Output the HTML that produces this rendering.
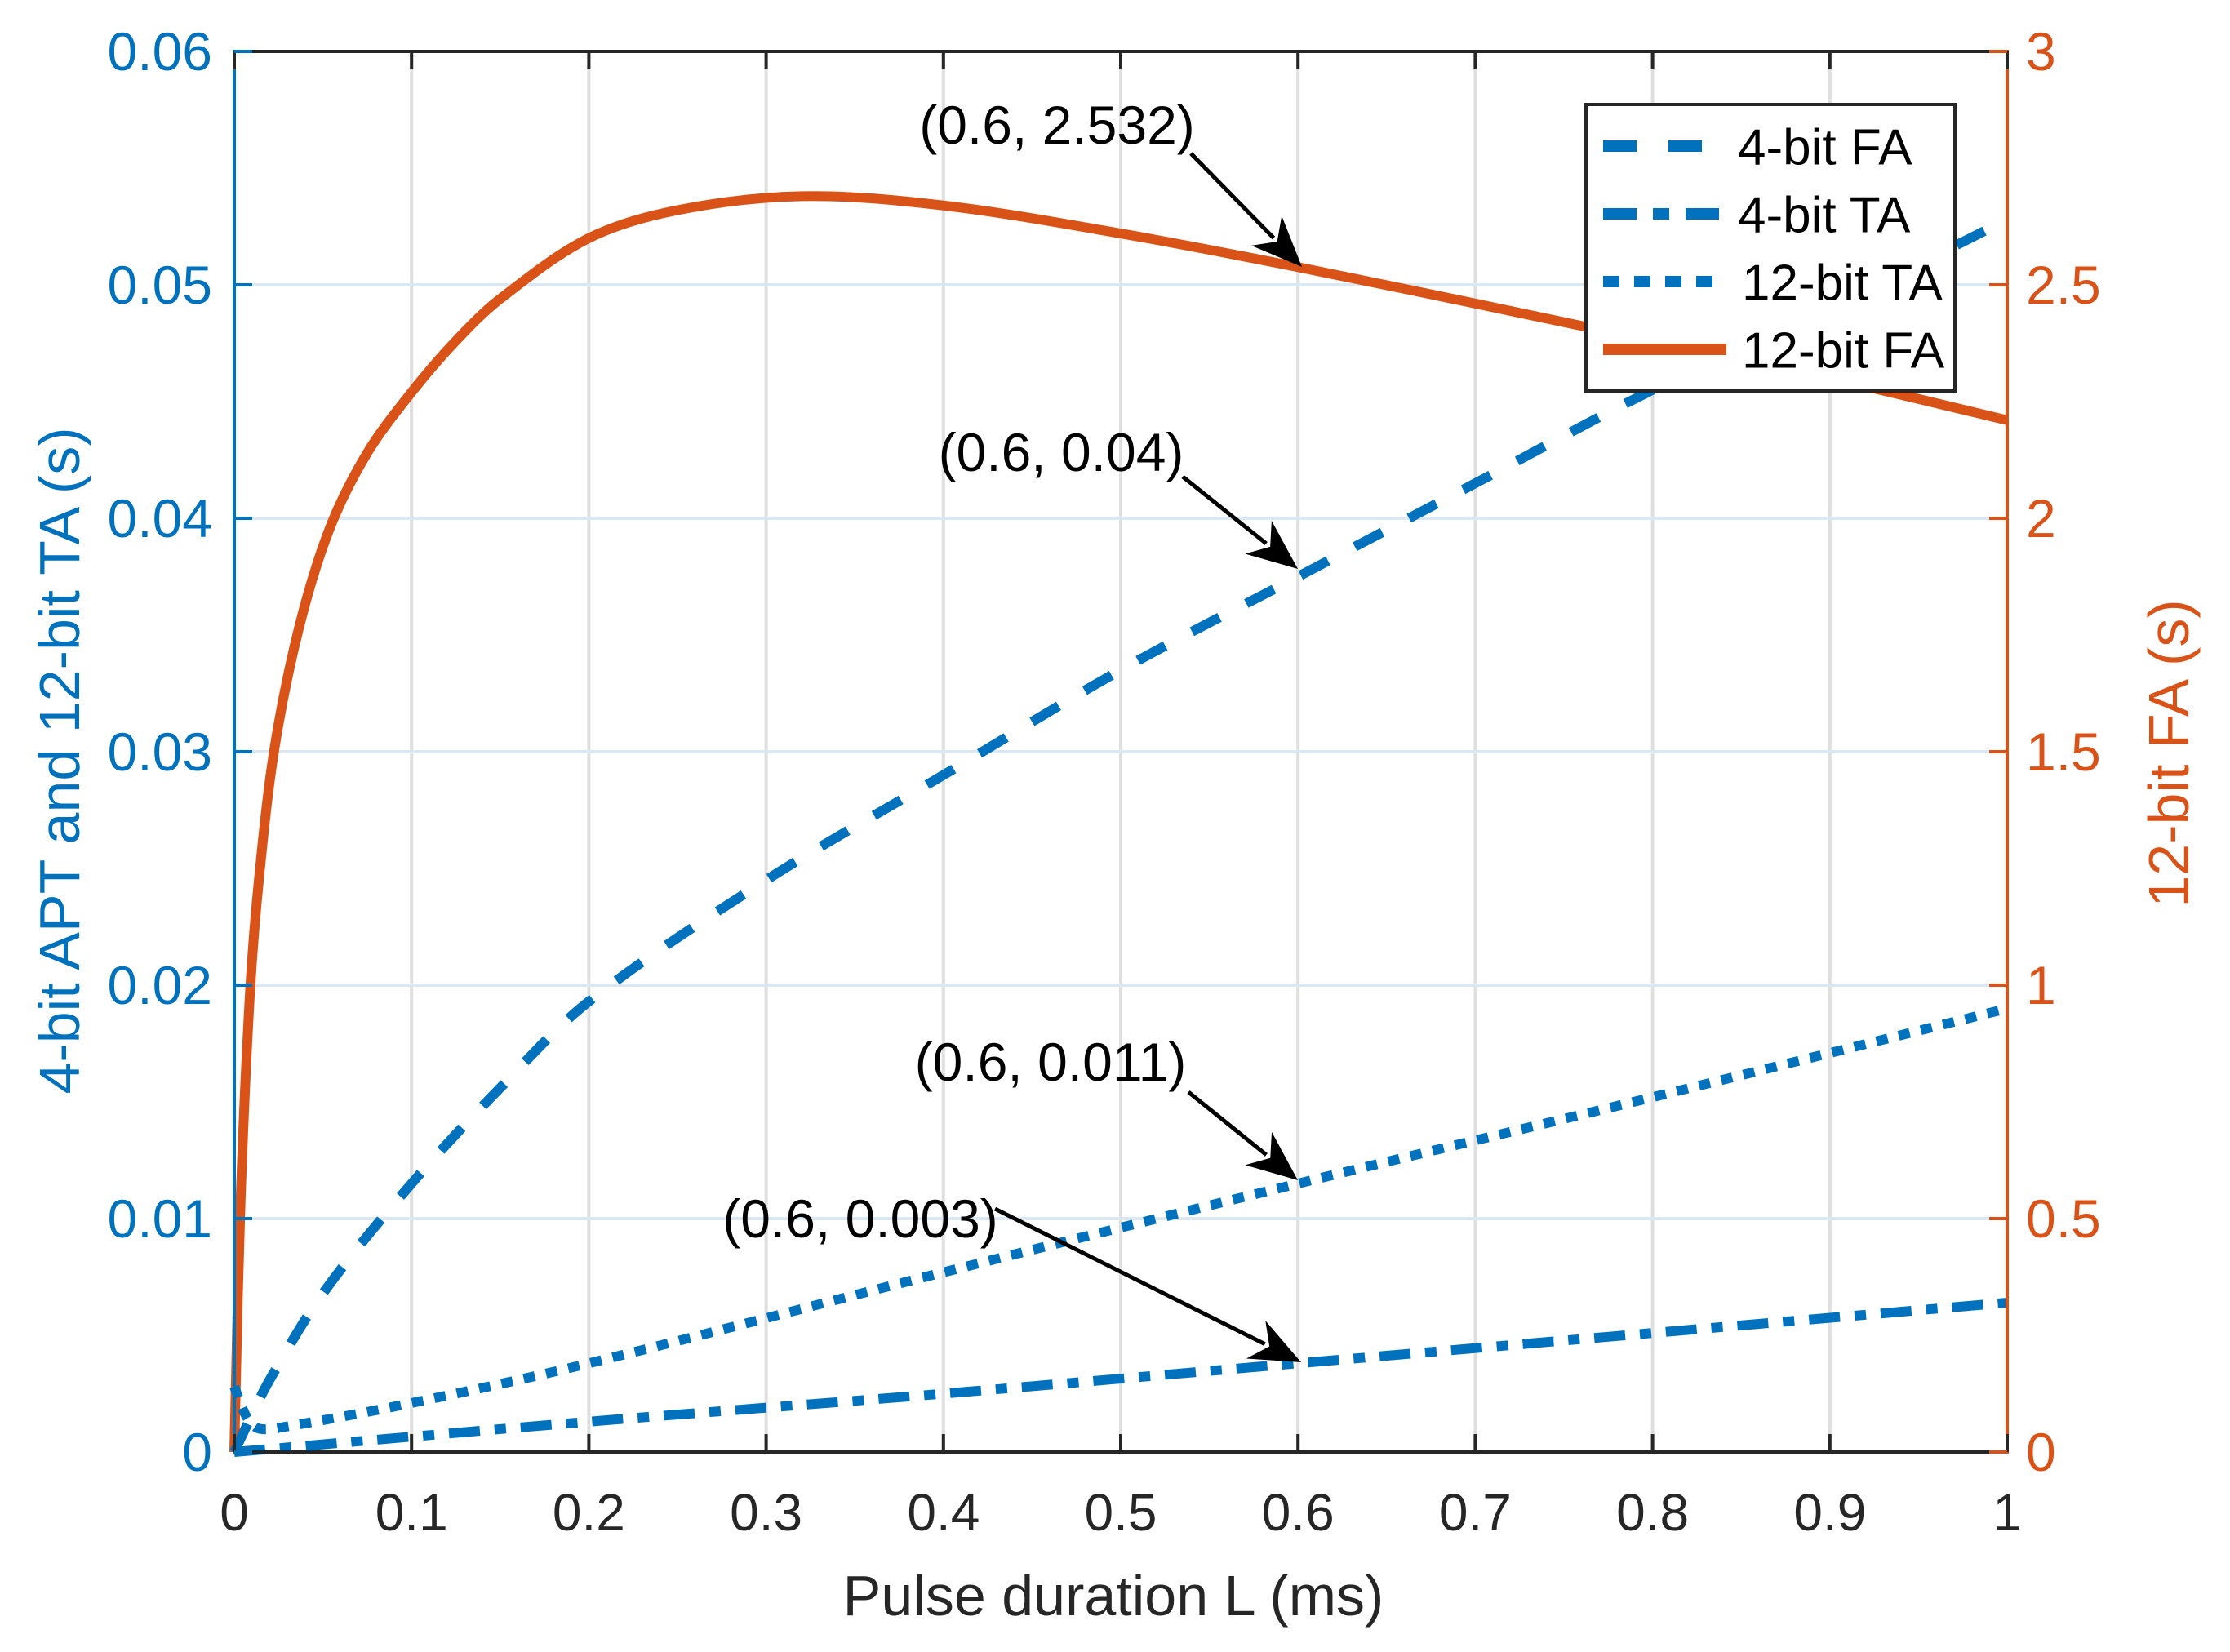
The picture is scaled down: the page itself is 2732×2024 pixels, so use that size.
<!DOCTYPE html>
<html><head><meta charset="utf-8"><style>
html,body{margin:0;padding:0;background:#fff;}
svg{display:block;font-family:"Liberation Sans",Arial,sans-serif;}
</style></head><body>
<svg id="chart" width="2732" height="2024" viewBox="0 0 2732 2024" xmlns="http://www.w3.org/2000/svg">
<g id="grid"></g>
<g id="series"></g>
<g id="axes"></g>
<g id="annots"></g>
<g id="legend"></g>
</svg>
<script>
const xTicks = [0,0.1,0.2,0.3,0.4,0.5,0.6,0.7,0.8,0.9,1];
const xTickLabels = ["0","0.1","0.2","0.3","0.4","0.5","0.6","0.7","0.8","0.9","1"];
const yLeftTicks = [0,0.01,0.02,0.03,0.04,0.05,0.06];
const yLeftLabels = ["0","0.01","0.02","0.03","0.04","0.05","0.06"];
const yRightTicks = [0,0.5,1,1.5,2,2.5,3];
const yRightLabels = ["0","0.5","1","1.5","2","2.5","3"];

const fa4X = [0,0.01,0.02,0.05,0.1,0.15,0.2,0.3,0.4,0.5,0.6,0.7,0.8,0.9,1];
const fa4Y = [0,0.0016,0.0031,0.0068,0.0115,0.0156,0.0193,0.0245,0.029,0.0335,0.0375,0.0415,0.0455,0.049,0.0528];
const ta4X = [0,0.2,0.4,0.6,0.8,1];
const ta4Y = [0,0.0013,0.0025,0.0038,0.0051,0.0064];
const ta12X = [0,0.007,0.014,0.03,0.1,0.2,0.4,0.6,0.8,1];
const ta12Y = [0.0028,0.0015,0.001,0.0011,0.0021,0.0038,0.0077,0.0115,0.0152,0.019];
const fa12X = [0,0.0035,0.0088,0.014,0.0228,0.0368,0.054,0.075,0.1,0.125,0.15,0.2,0.25,0.32,0.4,0.5,0.6,0.7,0.8,0.9,1];
const fa12Y = [0,0.53,0.98,1.23,1.51,1.77,1.98,2.14,2.27,2.38,2.47,2.6,2.66,2.69,2.67,2.61,2.538,2.46,2.38,2.3,2.21];

const annText = ["(0.6, 2.532)","(0.6, 0.04)","(0.6, 0.011)","(0.6, 0.003)"];

const X0=287,X1=2459,Y0=63,Y1=1779;
const sx=v=>X0+(X1-X0)*v;
const syL=v=>Y1-(Y1-Y0)*v/0.06;
const syR=v=>Y1-(Y1-Y0)*v/3;
const NS="http://www.w3.org/2000/svg";
function mk(tag,attrs,parent){const e=document.createElementNS(NS,tag);for(const k in attrs)e.setAttribute(k,attrs[k]);parent.appendChild(e);return e;}
const grid=document.getElementById('grid'),ser=document.getElementById('series'),axes=document.getElementById('axes'),ann=document.getElementById('annots'),leg=document.getElementById('legend');
const BLUE="#0072BD",ORG="#D95319",DK="#262626";

xTicks.forEach((t,i)=>{
  if(i>0&&i<xTicks.length-1){const g=mk('line',{x1:sx(t),x2:sx(t),y1:Y0,y2:Y1,stroke:"#dfdfdf","stroke-width":4},grid);
  
  }
});
yLeftTicks.forEach((t,i)=>{
  if(i>0&&i<yLeftTicks.length-1){const g=mk('line',{x1:X0,x2:X1,y1:syL(t),y2:syL(t),stroke:"#dbe8f2","stroke-width":4},grid);
  
  }
});

// centripetal-ish Catmull-Rom on screen points
function smoothPath(px,py){
  const n=px.length;
  let p="M"+px[0]+","+py[0];
  for(let i=0;i<n-1;i++){
    const i0=Math.max(0,i-1),i3=Math.min(n-1,i+2);
    const d1=Math.hypot(px[i+1]-px[i],py[i+1]-py[i]);
    const d0=Math.hypot(px[i]-px[i0],py[i]-py[i0])||d1;
    const d2=Math.hypot(px[i3]-px[i+1],py[i3]-py[i+1])||d1;
    const t1x=(px[i+1]-px[i0])/(d0+d1)*d1/3, t1y=(py[i+1]-py[i0])/(d0+d1)*d1/3;
    const t2x=(px[i3]-px[i])/(d1+d2)*d1/3, t2y=(py[i3]-py[i])/(d1+d2)*d1/3;
    p+=` C${px[i]+t1x},${py[i]+t1y} ${px[i+1]-t2x},${py[i+1]-t2y} ${px[i+1]},${py[i+1]}`;
  }
  return p;
}
function series(xs,ys,sy,color,dash,name){
  const p=mk('path',{d:smoothPath(xs.map(sx),ys.map(sy)),fill:"none",stroke:color,"stroke-width":12,"stroke-dasharray":dash,"stroke-linejoin":"round"},ser);
  
  
}
series(fa12X,fa12Y,syR,ORG,"none","line-12bit-fa");
series(fa4X,fa4Y,syL,BLUE,"38 37","line-4bit-fa");
series(ta4X,ta4Y,syL,BLUE,"38 18 14 18","line-4bit-ta");
series(ta12X,ta12Y,syL,BLUE,"14 14","line-12bit-ta");

function ln(x1,y1,x2,y2,c,name){const l=mk('line',{x1,y1,x2,y2,stroke:c,"stroke-width":4},axes);}
ln(X0,Y0,X1,Y0,DK,'top-axis-line');
ln(X0,Y1,X1,Y1,DK,'x-axis-line');
ln(X0,Y0-2,X0,Y1+2,BLUE,'left-y-axis-line');
ln(X1,Y0-2,X1,Y1+2,ORG,'right-y-axis-line');
function txt(s,x,y,anchor,color,size,name,parent,rot){
  const t=mk('text',{x,y,"text-anchor":anchor,fill:color,"font-size":size,"dominant-baseline":"central"},parent||axes);
  if(rot)t.setAttribute('transform',`rotate(${rot} ${x} ${y})`);
  t.textContent=s;return t;
}
xTicks.forEach((t,i)=>{
  ln(sx(t),Y1,sx(t),Y1-22,DK,'x-tick');ln(sx(t),Y0,sx(t),Y0+22,DK,'x-tick-top');
  txt(xTickLabels[i],sx(t),1853,"middle",DK,64,'x-tick-label');
});
yLeftTicks.forEach((t,i)=>{
  ln(X0,syL(t),X0+22,syL(t),BLUE,'left-y-tick');
  txt(yLeftLabels[i],260,syL(t),"end",BLUE,66,'left-y-tick-label');
});
yRightTicks.forEach((t,i)=>{
  ln(X1,syR(t),X1-22,syR(t),ORG,'right-y-tick');
  txt(yRightLabels[i],2482,syR(t),"start",ORG,66,'right-y-tick-label');
});
txt("Pulse duration L (ms)",1364,1955,"middle",DK,70,'x-axis-title');
txt("4-bit APT and 12-bit TA (s)",73,932,"middle",BLUE,70,'left-y-axis-title',axes,-90);
txt("12-bit FA (s)",2657,923,"middle",ORG,70,'right-y-axis-title',axes,-90);

const annPos=[[1295,153,1459,188,1595,327],[1300,554,1449,584,1590,697],[1287,1301,1456,1338,1590,1446],[1054,1493,1219,1481,1594,1669]];
annPos.forEach((a,i)=>{
  txt(annText[i],a[0],a[1],"middle","#000",66,'annotation-label',ann);
  const [ax,ay,bx,by]=[a[2],a[3],a[4],a[5]];
  const dx=bx-ax,dy=by-ay,L=Math.hypot(dx,dy),ux=dx/L,uy=dy/L,hl=62,hw=26;
  const l=mk('line',{x1:ax,y1:ay,x2:bx-ux*hl*0.8,y2:by-uy*hl*0.8,stroke:"#000","stroke-width":5},ann);
  
  
  const bxh=bx-ux*hl,byh=by-uy*hl;
  const p=mk('polygon',{points:`${bx},${by} ${bxh-uy*hw},${byh+ux*hw} ${bx-ux*hl*0.7},${by-uy*hl*0.7} ${bxh+uy*hw},${byh-ux*hw}`,fill:"#000"},ann);
  
  
});

const lb=mk('rect',{x:1943,y:128,width:452,height:351,fill:"#fff",stroke:DK,"stroke-width":4},leg);


const legNames=["4-bit FA","4-bit TA","12-bit TA","12-bit FA"];
const legDash=["41 39","41 20 20 20","20 18","none"];
const legCol=[BLUE,BLUE,BLUE,ORG];
legNames.forEach((n,i)=>{
  const y=179+i*83;
  const l=mk('line',{x1:1964,x2:2115,y1:y,y2:y,stroke:legCol[i],"stroke-width":14,"stroke-dasharray":legDash[i]},leg);
  
  
  txt(n,i<2?2129:2134,y+2,"start","#000",62,'legend-entry',leg);
});
</script>
</body></html>
